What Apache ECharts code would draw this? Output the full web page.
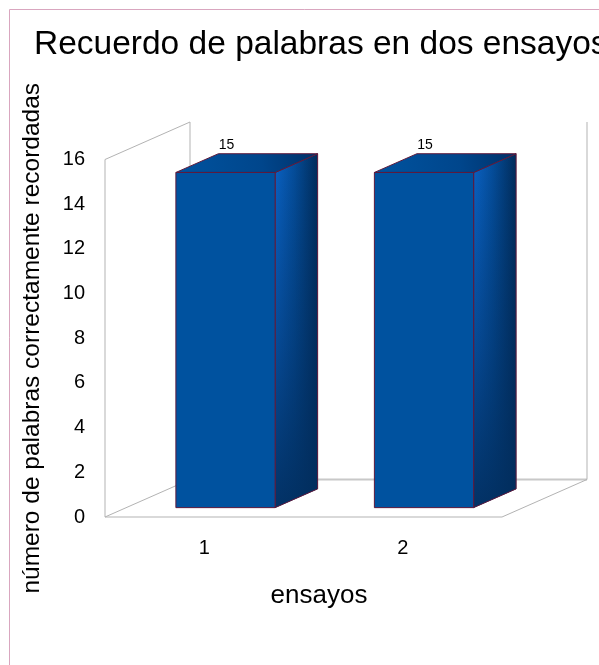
<!DOCTYPE html>
<html>
<head>
<meta charset="utf-8">
<style>
  html, body { margin: 0; padding: 0; background: #ffffff; }
  #chart { width: 599px; height: 665px; }
</style>
<script src="https://cdn.jsdelivr.net/npm/echarts@6/dist/echarts.min.js"></script>
</head>
<body>
<div id="chart"></div>
<script>
// Word recall over two trials
const categories = ['1', '2'];
const recalled = [15, 15];
const yTicks = [0, 2, 4, 6, 8, 10, 12, 14, 16];

const FONT = "'Liberation Sans', Arial, sans-serif";
// Receding depth of the 3D box (screen offset of the back plane)
const DEPTH = [85, -37.5];
const BAR_RATIO = 0.5;       // bar width as a share of the category band
const BAR_FRONT = 0.25;      // bar front plane, as a share of the depth
const BAR_BACK = 0.75;       // bar back plane
const WALL = '#b3b3b3';

const chart = echarts.init(document.getElementById('chart'), null, { renderer: 'canvas' });

// Floor and side wall outline of the 3D frame
function renderFrame(params, api) {
  const cs = params.coordSys;
  const l = cs.x, r = cs.x + cs.width, t = cs.y, b = cs.y + cs.height;
  const dx = DEPTH[0], dy = DEPTH[1];
  const line = (x1, y1, x2, y2, w, c) => ({
    type: 'line',
    shape: { x1, y1, x2, y2 },
    style: { stroke: c || WALL, lineWidth: w || 1 }
  });
  return {
    type: 'group',
    children: [
      // back floor edge
      line(l + dx, b + dy, r + dx, b + dy, 2, '#c8c8c8'),
      // left wall
      line(l, t, l, b),
      line(l, t, l + dx, t + dy),
      line(l + dx, t + dy, l + dx, b + dy),
      // floor
      line(l, b, r, b),
      line(l, b, l + dx, b + dy),
      line(r, b, r + dx, b + dy),
      // right back edge
      line(r + dx, b + dy, r + dx, t + dy)
    ]
  };
}

// One 3D box per category
function renderBar(params, api) {
  const idx = api.value(0);
  const val = api.value(1);
  const base = api.coord([idx, 0]);
  const top = api.coord([idx, val]);
  const band = api.size([1, 0])[0];
  const hw = band * BAR_RATIO / 2;
  const fx = DEPTH[0] * BAR_FRONT, fy = DEPTH[1] * BAR_FRONT;
  const ddx = DEPTH[0] * (BAR_BACK - BAR_FRONT), ddy = DEPTH[1] * (BAR_BACK - BAR_FRONT);
  const x0 = base[0] - hw + fx, x1 = base[0] + hw + fx;
  const yb = base[1] + fy, yt = top[1] + fy;
  const edge = '#5e1a3c';
  const sidePts = [[x1, yt], [x1 + ddx, yt + ddy], [x1 + ddx, yb + ddy], [x1, yb]];
  return {
    type: 'group',
    children: [
      {
        type: 'polygon',
        shape: { points: sidePts },
        style: {
          fill: new echarts.graphic.LinearGradient(0, 0, 1, 0, [
            { offset: 0, color: '#0a62c4' },
            { offset: 0.45, color: '#044d9a' },
            { offset: 1, color: '#012c5a' }
          ])
        }
      },
      {
        // shade the side face darker toward the floor
        type: 'polygon',
        shape: { points: sidePts },
        style: {
          fill: new echarts.graphic.LinearGradient(0, 0, 0, 1, [
            { offset: 0, color: 'rgba(2,44,92,0)' },
            { offset: 0.55, color: 'rgba(2,44,92,0.45)' },
            { offset: 1, color: 'rgba(2,46,94,0.92)' }
          ]),
          stroke: edge, lineWidth: 1
        }
      },
      {
        type: 'polygon',
        shape: { points: [[x0, yt], [x1, yt], [x1 + ddx, yt + ddy], [x0 + ddx, yt + ddy]] },
        style: {
          fill: new echarts.graphic.LinearGradient(0, 1, 1, 0, [
            { offset: 0, color: '#00539f' },
            { offset: 0.6, color: '#00468c' },
            { offset: 1, color: '#003068' }
          ]),
          stroke: edge, lineWidth: 1
        }
      },
      {
        type: 'rect',
        shape: { x: x0, y: yt, width: x1 - x0, height: yb - yt },
        style: { fill: '#00529f', stroke: edge, lineWidth: 1 }
      },
      {
        type: 'text',
        x: base[0] + fx + 1,
        y: yt + ddy - 9,
        style: {
          text: String(val),
          fill: '#000000',
          font: '14px ' + FONT,
          align: 'center',
          verticalAlign: 'middle'
        }
      }
    ]
  };
}

chart.setOption({
  backgroundColor: '#ffffff',
  animation: false,
  title: {
    text: 'Recuerdo de palabras en dos ensayos',
    left: 34,
    top: 28,
    padding: 0,
    textStyle: { fontFamily: FONT, fontSize: 33.5, fontWeight: 'normal', color: '#000000' }
  },
  graphic: [{
    type: 'rect',
    silent: true,
    shape: { x: 9.5, y: 9.5, width: 800, height: 800 },
    style: { fill: 'none', stroke: '#d9a6bf', lineWidth: 1 },
    z: 100
  }],
  grid: { left: 105, right: 97, top: 159.5, bottom: 148 },
  xAxis: {
    type: 'category',
    data: categories,
    name: 'ensayos',
    nameLocation: 'middle',
    nameGap: 66,
    nameTextStyle: { fontFamily: FONT, fontSize: 26, color: '#000000', padding: [0, 0, 0, 31] },
    axisLine: { show: false },
    axisTick: { show: false },
    axisLabel: { fontFamily: FONT, fontSize: 20, color: '#000000', margin: 21 }
  },
  yAxis: {
    type: 'value',
    min: yTicks[0],
    max: yTicks[yTicks.length - 1],
    interval: yTicks[1] - yTicks[0],
    name: 'número de palabras correctamente recordadas',
    nameLocation: 'middle',
    nameRotate: 90,
    nameGap: 60,
    nameTextStyle: { fontFamily: FONT, fontSize: 24.5, color: '#000000' },
    axisLine: { show: false },
    axisTick: { show: false },
    splitLine: { show: false },
    axisLabel: { fontFamily: FONT, fontSize: 20, color: '#000000', margin: 20 }
  },
  series: [
    {
      type: 'custom',
      z: 1,
      silent: true,
      renderItem: renderFrame,
      data: [[0, 0]]
    },
    {
      type: 'custom',
      z: 2,
      renderItem: renderBar,
      encode: { x: 0, y: 1 },
      data: categories.map((c, i) => [i, recalled[i]])
    }
  ]
});
</script>
</body>
</html>
